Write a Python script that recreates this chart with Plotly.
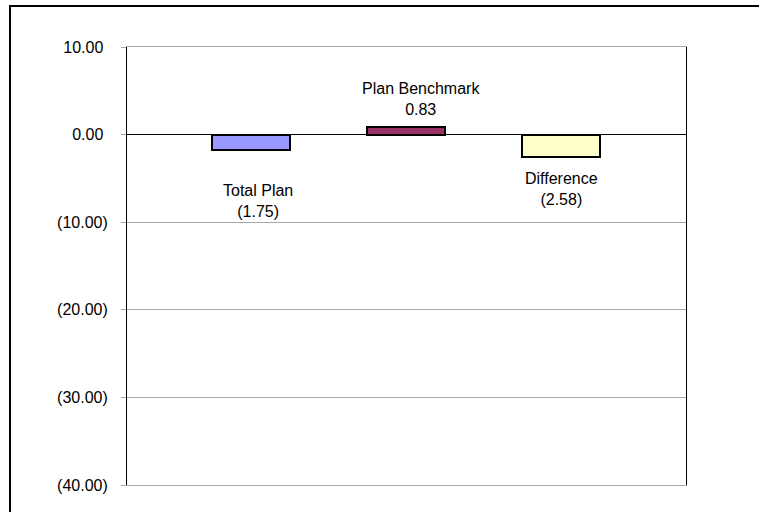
import plotly.graph_objects as go

# Series data
categories = ["Total Plan", "Plan Benchmark", "Difference"]
values = [-1.75, 0.83, -2.58]
label_values = ["(1.75)", "0.83", "(2.58)"]
bar_colors = ["#9999FF", "#993366", "#FFFFCC"]

# Y axis ticks
tick_vals = [10, 0, -10, -20, -30, -40]
tick_text = ["10.00\u00a0", "0.00\u00a0", "(10.00)", "(20.00)", "(30.00)", "(40.00)"]

# Data label placement (pixel offsets from each bar's value)
label_xshift = [7, 15, 0]
label_yshift = [-51, 28, -32]

W, H = 759, 512
ML, MR, MT, MB = 127, 73, 47, 27

fig = go.Figure()
fig.add_trace(go.Bar(
    x=categories,
    y=values,
    width=0.5,
    marker=dict(color=bar_colors, line=dict(color="black", width=2)),
    hoverinfo="skip",
))

font = dict(family="Liberation Sans, Arial, sans-serif", size=16, color="black")

for cat, v, lab, dx, dy in zip(categories, values, label_values, label_xshift, label_yshift):
    fig.add_annotation(
        x=cat, y=v, text=f"{cat}<br>{lab}", showarrow=False,
        xshift=dx, yshift=dy, xanchor="center", yanchor="middle",
        font=font, align="center",
    )

# Outer chart frame (left and top edges fall inside the page)
pw = W - ML - MR
ph = H - MT - MB
fig.add_shape(
    type="rect", xref="paper", yref="paper",
    x0=(10 - ML) / pw, x1=(800 - ML) / pw,
    y0=(H - MB - 540) / ph, y1=(H - MB - 6) / ph,
    line=dict(color="black", width=2), fillcolor="rgba(0,0,0,0)",
)

fig.update_layout(
    width=W, height=H,
    margin=dict(l=ML, r=MR, t=MT, b=MB),
    paper_bgcolor="white", plot_bgcolor="white",
    showlegend=False,
    font=font,
    bargap=0,
)
# Top and bottom edges of the plot area are grey like the gridlines
fig.update_xaxes(
    range=[-0.8, 2.806], showticklabels=False, showgrid=False,
    showline=True, linecolor="#A6A6A6", linewidth=1, mirror=True,
    zeroline=False, ticks="",
)
fig.update_yaxes(
    range=[-40, 10], tickvals=tick_vals, ticktext=tick_text,
    showgrid=True, gridcolor="#A6A6A6", gridwidth=1,
    zeroline=True, zerolinecolor="black", zerolinewidth=1,
    showline=True, linecolor="black", linewidth=1, mirror=True,
    ticks="outside", ticklen=5, tickcolor="#A6A6A6",
    ticklabelstandoff=10,
    tickfont=dict(family="Liberation Sans, Arial, sans-serif", size=16, color="black"),
)

fig.write_html("out.html")
